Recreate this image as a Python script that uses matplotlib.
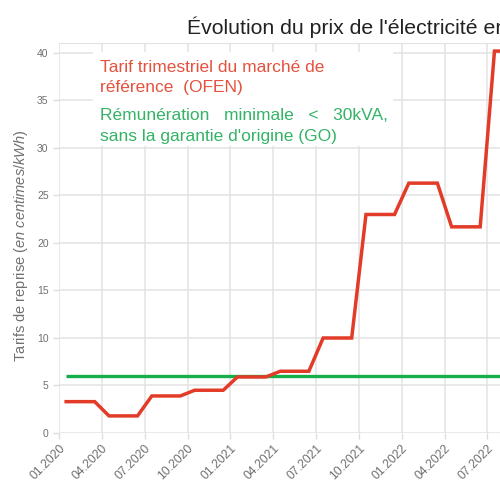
import matplotlib
matplotlib.use("Agg")
import matplotlib.pyplot as plt
from matplotlib.patches import Rectangle

plt.rcParams['font.family'] = ['Liberation Sans', 'DejaVu Sans']
plt.rcParams['mathtext.fontset'] = 'custom'
plt.rcParams['mathtext.rm'] = 'Liberation Sans'
plt.rcParams['mathtext.it'] = 'Liberation Sans:italic'

# mois depuis 01.2020 (point au milieu du mois)
mois = [m + 0.5 for m in range(33)]
# tarif trimestriel OFEN, centimes/kWh (un trimestre = 3 mois)
tarif_trimestre = [3.3, 1.8, 3.9, 4.5, 5.9, 6.5, 10.0, 23.0, 26.3, 21.7, 40.2]
tarif_ofen = [v for v in tarif_trimestre for _ in range(3)]
remuneration_min = [6.0] * len(mois)

tick_pos = list(range(0, 36, 3))
tick_labels = ['01.2020', '04.2020', '07.2020', '10.2020',
               '01.2021', '04.2021', '07.2021', '10.2021',
               '01.2022', '04.2022', '07.2022', '10.2022']

rouge = '#E23B28'
vert = '#16AE4A'
gris = '#707070'

fig = plt.figure(figsize=(5, 5), dpi=100)
ax = fig.add_axes([0.118, 0.134, 1.028, 0.780])

ax.plot(mois, remuneration_min, color=vert, lw=2.4, solid_capstyle='butt', zorder=3)
ax.plot(mois, tarif_ofen, color=rouge, lw=2.5, solid_joinstyle='miter', zorder=4)

ax.set_xlim(0, 36)
ax.set_ylim(0, 41.05)
ax.set_yticks(range(0, 41, 5))
ax.set_xticks(tick_pos)
ax.set_xticklabels(tick_labels, rotation=45, ha='right', rotation_mode='anchor')
ax.tick_params(axis='both', colors='#DDDDDD', labelcolor=gris, labelsize=7.5, length=4, width=1)
ax.tick_params(axis='x', labelsize=8.8, pad=3)
ax.grid(True, color='#E3E3E3', lw=1.1, zorder=0)
for side in ['left', 'right', 'bottom']:
    ax.spines[side].set_visible(False)
ax.spines['top'].set_color('#E3E3E3')

ax.set_ylabel(r"Tarifs de reprise $\it{(en\ centimes/kWh)}$", color=gris, fontsize=10.5)
ax.yaxis.set_label_coords(-0.057, 0.48)

# encadré de légende (fond blanc)
ax.add_patch(Rectangle((0.066, 0.736), 0.584, 0.241, transform=ax.transAxes,
                       facecolor='white', edgecolor='none', zorder=2))
ax.text(0.08, 0.938, "Tarif trimestriel du marché de", transform=ax.transAxes,
        color='#E4523D', fontsize=12.5, va='center', zorder=5)
ax.text(0.08, 0.885, "référence  (OFEN)", transform=ax.transAxes,
        color='#E4523D', fontsize=12.5, va='center', zorder=5)
ax.text(0.08, 0.815, "Rémunération   minimale   <   30kVA,", transform=ax.transAxes,
        color='#34B366', fontsize=12.5, va='center', zorder=5)
ax.text(0.08, 0.759, "sans la garantie d'origine (GO)", transform=ax.transAxes,
        color='#34B366', fontsize=12.5, va='center', zorder=5)

fig.text(0.374, 0.946, "Évolution du prix de l'électricité en Suisse", color='#222222',
         fontsize=15.3, ha='left', va='center')

fig.savefig('out.png', dpi=100)
